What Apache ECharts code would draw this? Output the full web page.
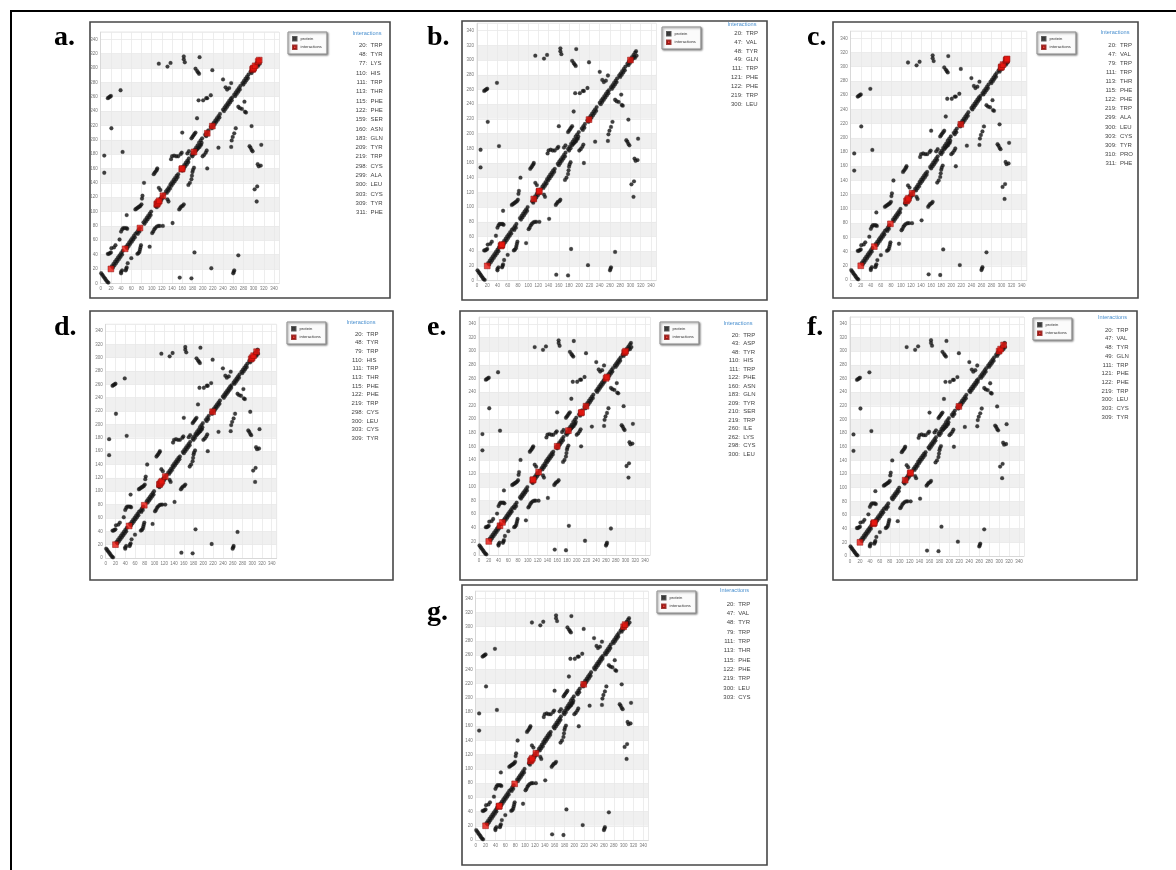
<!DOCTYPE html>
<html>
<head>
<meta charset="utf-8">
<title>contact maps</title>
<style>
  html, body { margin: 0; padding: 0; background: #fff; }
  #chart { width: 1176px; height: 870px; }
</style>
</head>
<body>
<div id="chart"></div>
<script src="https://cdn.jsdelivr.net/npm/echarts@6/dist/echarts.min.js"></script>
<script>
// protein contact map (residue i, residue j)
var proteinContacts = [
  [1,14],[3,12],[5,10],[7,8],[9,6],[11,4],[13,2],[15,1],
  // diagonal
  [22,24],[25,27],[28,30],[31,33],[34,36],[37,39],[40,42],[43,45],
  [50,51],[53,54],[56,57],[59,60],[62,63],[65,66],[68,69],
  [71,71],[74,74],[77,77],
  [84,85],[87,88],[90,91],[93,94],[96,97],[99,100],
  [108,108],[111,112],[114,115],[117,118],[120,121],[124,124],
  [128,128],[131,131],[134,134],[137,138],[140,141],[143,144],[146,147],[149,150],[152,152],
  [158,159],[161,162],[164,165],[167,168],[170,171],[173,174],
  [178,179],[181,182],[184,186],[187,189],[190,192],[193,196],[196,199],[199,202],
  [205,207],[208,210],[211,213],
  [216,218],[219,221],[222,224],[225,227],[228,230],[231,233],[234,236],
  [240,242],[243,245],[246,248],[249,251],[252,254],[255,257],[258,259],
  [262,263],[265,266],[268,269],[271,272],[274,275],
  [278,279],[281,282],[284,285],[287,288],[290,291],
  [294,295],[297,298],[300,301],[303,304],[306,307],[309,310],[311,312],[312,306],[309,303],
  // second strand beside the diagonal
  [24,22],[27,25],[30,28],[33,31],[36,34],[39,37],[42,40],
  [52,49],[55,52],[58,55],[61,58],[64,61],[67,64],
  [73,69],[76,72],
  [86,83],[89,86],[92,89],[95,92],[98,95],
  [110,106],[113,110],[116,113],[119,116],[122,119],
  [130,126],[133,129],[136,132],[139,136],[142,139],[145,142],[148,145],[151,148],
  [160,157],[163,160],[166,163],[169,166],[172,169],
  [180,177],[183,180],[186,184],[189,187],[192,190],[195,193],[198,196],
  [207,205],[210,208],
  [218,216],[221,219],[224,222],[227,225],[230,228],[233,231],
  [242,240],[245,243],[248,246],[251,249],[254,252],[257,255],
  [264,261],[267,264],[270,267],[273,270],
  [280,277],[283,280],[286,283],[289,286],
  [296,293],[299,296],[302,299],[305,302],[308,305],
  // above diagonal
  [14,258],[16,259],[18,260],[20,261],[39,269],[21,216],[7,178],[7,154],[43,183],
  [14,41],[16,41],[18,42],[20,43],[21,49],[26,50],[29,53],[37,61],
  [40,72],[42,75],[44,77],[47,77],[50,77],[52,76],[51,95],
  [68,103],[70,104],[72,105],[74,106],[76,107],[78,108],[80,110],[81,118],[82,122],[85,140],
  [104,152],[106,154],[108,156],[110,158],[111,160],[114,133],[117,130],
  [138,173],[140,177],[144,178],[148,177],[152,177],[160,210],[157,180],[159,182],[170,181],[173,184],
  [178,202],[180,204],[182,206],[184,208],[186,210],[189,230],
  [192,255],[201,255],[207,258],[209,258],[216,262],[219,297],
  [186,299],[189,296],[191,294],[193,292],[194,315],[163,316],[163,312],[165,308],
  [114,306],[131,302],[137,307],
  [240,284],[245,273],[248,270],[252,272],[256,279],
  // below diagonal
  [40,14],[40,16],[42,18],[49,18],[50,20],[51,22],[53,28],[60,35],
  [72,41],[74,42],[76,44],[77,47],[78,50],[79,53],[96,51],
  [101,70],[103,72],[105,75],[107,77],[110,79],[113,80],[116,80],[122,80],[141,84],
  [154,103],[156,105],[158,107],[161,108],[163,110],[131,117],[133,114],
  [172,137],[175,140],[178,145],[179,150],[180,155],[181,158],[183,161],[209,160],
  [188,186],[191,188],[194,190],[197,193],
  [200,177],[203,179],[206,182],[208,185],[231,189],
  [256,190],[257,199],[259,204],[262,209],[265,216],
  [270,246],[273,244],[277,243],[283,239],[282,253],[285,238],
  [296,219],[292,191],[294,189],[296,186],[298,184],[315,193],
  [308,166],[310,163],[314,164],[302,131],[307,135],[306,114],
  [270,39],[260,14],[261,16],[262,18],[217,21],[184,43],[178,7],[155,8]
];

// interacting residues per panel
var aResidues = [20,48,77,110,111,113,115,122,159,160,183,209,219,298,299,300,303,309,311];
var aNames = ['TRP','TYR','LYS','HIS','TRP','THR','PHE','PHE','SER','ASN','GLN','TYR','TRP','CYS','ALA','LEU','CYS','TYR','PHE'];
var bResidues = [20,47,48,49,111,121,122,219,300];
var bNames = ['TRP','VAL','TYR','GLN','TRP','PHE','PHE','TRP','LEU'];
var cResidues = [20,47,79,111,113,115,122,219,299,300,303,309,310,311];
var cNames = ['TRP','VAL','TRP','TRP','THR','PHE','PHE','TRP','ALA','LEU','CYS','TYR','PRO','PHE'];
var dResidues = [20,48,79,110,111,113,115,122,219,298,300,303,309];
var dNames = ['TRP','TYR','TRP','HIS','TRP','THR','PHE','PHE','TRP','CYS','LEU','CYS','TYR'];
var eResidues = [20,43,48,110,111,122,160,183,209,210,219,260,262,298,300];
var eNames = ['TRP','ASP','TYR','HIS','TRP','PHE','ASN','GLN','TYR','SER','TRP','ILE','LYS','CYS','LEU'];
var fResidues = [20,47,48,49,111,121,122,219,300,303,309];
var fNames = ['TRP','VAL','TYR','GLN','TRP','PHE','PHE','TRP','LEU','CYS','TYR'];
var gResidues = [20,47,48,79,111,113,115,122,219,300,303];
var gNames = ['TRP','VAL','TYR','TRP','TRP','THR','PHE','PHE','TRP','LEU','CYS'];

var panelLetters = ['a.','b.','c.','d.','e.','f.','g.'];

// layout of each panel (pixels)
var panels = [
  { res: aResidues, names: aNames, box: [90,22,300,276], letter: [54,38],
    grid: { left: 100.7, top: 32.1, width: 178.4, height: 251.2 }, legend: [288,32],
    title: [367,33], numX: 367.3, listTop: 45, gap: 9.32 },
  { res: bResidues, names: bNames, box: [462,21,305,279], letter: [427,38],
    grid: { left: 477, top: 23.3, width: 179, height: 257.3 }, legend: [662,27],
    title: [742,24], numX: 742.7, listTop: 33.3, gap: 8.83 },
  { res: cResidues, names: cNames, box: [833,22,305,276], letter: [807,38],
    grid: { left: 850.7, top: 31.2, width: 176, height: 248.8 }, legend: [1037,32],
    title: [1115,32], numX: 1116.7, listTop: 45, gap: 9.1 },
  { res: dResidues, names: dNames, box: [90,311,303,269], letter: [54,328],
    grid: { left: 105.7, top: 324.3, width: 170.9, height: 233.7 }, legend: [287,322],
    title: [361,322.3], numX: 363.3, listTop: 334, gap: 8.69 },
  { res: eResidues, names: eNames, box: [460,311,307,269], letter: [427,328],
    grid: { left: 479, top: 317.2, width: 171, height: 237.8 }, legend: [660,322],
    title: [738,323.3], numX: 740, listTop: 335, gap: 8.5 },
  { res: fResidues, names: fNames, box: [833,311,304,269], letter: [807,328],
    grid: { left: 850, top: 317, width: 174, height: 239 }, legend: [1033,318],
    title: [1112.5,317.3], numX: 1113.3, listTop: 330, gap: 8.73 },
  { res: gResidues, names: gNames, box: [462,585,305,280], letter: [427,613],
    grid: { left: 475.7, top: 591.2, width: 172.6, height: 248.8 }, legend: [657,591],
    title: [734.5,590.7], numX: 735, listTop: 604, gap: 9.33 }
];

// band colours 0-20, 20-40 ... 320-340, 340-350 (top strip stays white)
var bandColors = [];
for (var b = 0; b < 17; b++) bandColors.push(b % 2 ? '#f0f0f0' : '#ffffff');
bandColors.push('#ffffff');

var fontSans = 'Liberation Sans, Arial, sans-serif';
var grids = [], xAxes = [], yAxes = [], series = [], legends = [], graphics = [];

// outer frame
graphics.push({
  type: 'rect', shape: { x: 11, y: 11, width: 1200, height: 900 },
  style: { fill: 'none', stroke: '#000', lineWidth: 2 }, silent: true
});

panels.forEach(function (p, i) {
  grids.push({ left: p.grid.left, top: p.grid.top, width: p.grid.width, height: p.grid.height,
    show: true, borderColor: '#e0e0e0', borderWidth: 1 });
  var axisCommon = {
    gridIndex: i, type: 'value', min: 0, max: 350, interval: 20,
    axisLine: { show: true, lineStyle: { color: '#d8d8d8' } },
    axisTick: { show: false },
    axisLabel: { fontSize: 4.5, color: '#777', margin: 3, showMaxLabel: false, fontFamily: fontSans },
    splitLine: { show: true, lineStyle: { color: '#e8e8e8', width: 0.8 } }
  };
  xAxes.push(Object.assign({}, axisCommon));
  yAxes.push(Object.assign({}, axisCommon, {
    splitArea: { show: true, areaStyle: { color: bandColors } }
  }));
  series.push({
    name: 'protein', type: 'scatter', xAxisIndex: i, yAxisIndex: i,
    data: proteinContacts, symbol: 'circle', symbolSize: 3.8,
    itemStyle: { color: '#111', borderColor: '#333', borderWidth: 0.3 }, z: 2
  });
  series.push({
    name: 'interactions', type: 'scatter', xAxisIndex: i, yAxisIndex: i,
    data: p.res.map(function (r) { return [r, r]; }), symbol: 'rect', symbolSize: 5.8,
    itemStyle: { color: '#e8160f', borderColor: '#8a0b08', borderWidth: 0.6 }, z: 3
  });
  legends.push({
    left: p.legend[0], top: p.legend[1], orient: 'vertical',
    data: [{ name: 'protein', icon: 'rect' }, { name: 'interactions', icon: 'rect' }],
    itemWidth: 3.5, itemHeight: 3.5, itemGap: 3, padding: [4, 5, 4, 4],
    textStyle: { fontSize: 4.2, color: '#333', fontFamily: fontSans, padding: [0, 0, 0, -1] },
    backgroundColor: '#fbfbfb', borderColor: '#8c8c8c', borderWidth: 1,
    shadowColor: 'rgba(0,0,0,0.45)', shadowBlur: 2, shadowOffsetX: 1, shadowOffsetY: 1
  });

  // panel box and letter
  graphics.push({
    type: 'rect', shape: { x: p.box[0], y: p.box[1], width: p.box[2], height: p.box[3] },
    style: { fill: 'none', stroke: '#474747', lineWidth: 1.6 }, silent: true
  });
  graphics.push({
    type: 'text', x: p.letter[0], y: p.letter[1], silent: true,
    style: { text: panelLetters[i], font: 'bold 28px "Liberation Serif", "Times New Roman", serif',
      fill: '#000', verticalAlign: 'middle' }
  });
  // interaction list
  graphics.push({
    type: 'text', x: p.title[0], y: p.title[1], silent: true,
    style: { text: 'Interactions', font: '5.6px ' + fontSans, fill: '#4a90cf',
      align: 'center', verticalAlign: 'middle' }
  });
  p.res.forEach(function (r, k) {
    var y = p.listTop + k * p.gap;
    graphics.push({ type: 'text', x: p.numX, y: y, silent: true,
      style: { text: r + ':', font: '6px ' + fontSans, fill: '#444', align: 'right', verticalAlign: 'middle' } });
    graphics.push({ type: 'text', x: p.numX + 3.2, y: y, silent: true,
      style: { text: p.names[k], font: '6px ' + fontSans, fill: '#444', align: 'left', verticalAlign: 'middle' } });
  });
});

var myChart = echarts.init(document.getElementById('chart'), null, { renderer: 'canvas' });
myChart.setOption({
  animation: false,
  backgroundColor: '#fff',
  grid: grids,
  xAxis: xAxes,
  yAxis: yAxes,
  legend: legends,
  series: series,
  graphic: graphics
});
</script>
</body>
</html>
